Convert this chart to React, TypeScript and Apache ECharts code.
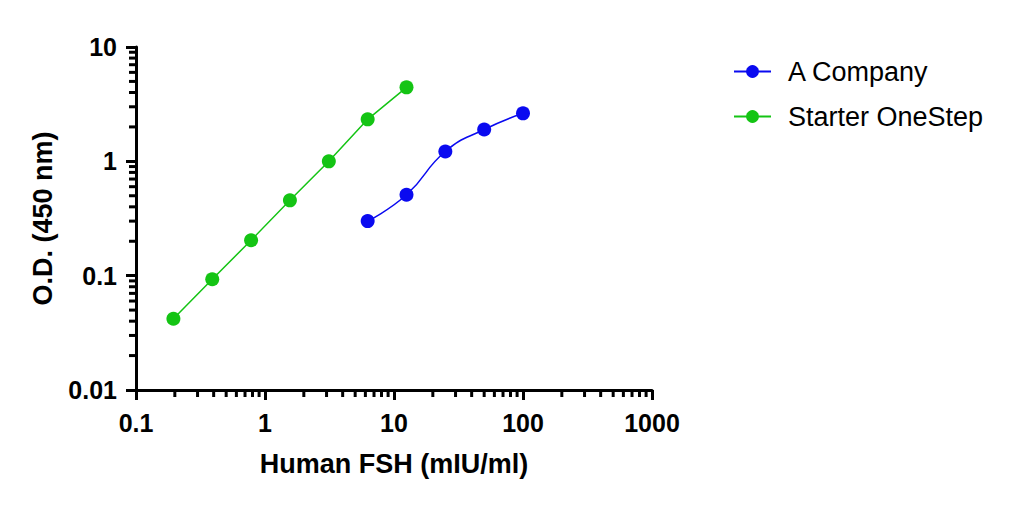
import { useEffect, useRef } from 'react'
import * as echarts from 'echarts'

// ===== 数据 =====
const aCompanyX = [6.25, 12.5, 25, 50, 100]
const aCompanyY = [0.3, 0.51, 1.22, 1.9, 2.63]
const starterX = [0.195, 0.39, 0.78, 1.56, 3.125, 6.25, 12.5]
const starterY = [0.042, 0.093, 0.204, 0.456, 1.0, 2.33, 4.44]

const xDecades = [0.1, 1, 10, 100]
const yDecades = [0.01, 0.1, 1]
const minorSteps = [2, 3, 4, 5, 6, 7, 8, 9]
const xTickLabels: Record<string, string> = { '0.1': '0.1', '1': '1', '10': '10', '100': '100', '1000': '1000' }
const yTickLabels: Record<string, string> = { '0.01': '0.01', '0.1': '0.1', '1': '1', '10': '10' }

const BLUE = '#0a0af0'
const GREEN = '#14c414'
const FONT = '"Liberation Sans", Arial, sans-serif'

const fmt = (map: Record<string, string>) => (v: number) => map[String(+v.toPrecision(6))] ?? ''

export default function App() {
  const ref = useRef<HTMLDivElement>(null)

  useEffect(() => {
    if (!ref.current) return
    const chart = echarts.init(ref.current, undefined, { renderer: 'svg' })

    const xMinor = xDecades.flatMap((d) => minorSteps.map((s) => +(d * s).toPrecision(6)))
    const yMinor = yDecades.flatMap((d) => minorSteps.map((s) => +(d * s).toPrecision(6)))

    const option: echarts.EChartsOption = {
      animation: false,
      backgroundColor: '#fff',
      textStyle: { fontFamily: FONT },
      grid: { left: 136, right: 361, top: 47, bottom: 117 },
      legend: {
        orient: 'vertical',
        left: 728,
        top: 53,
        itemWidth: 37,
        itemHeight: 16,
        itemGap: 18,
        data: ['A Company', 'Starter OneStep'],
        textStyle: { fontSize: 27, color: '#000', fontFamily: FONT, padding: [0, 0, 0, 12] },
      },
      xAxis: {
        type: 'log',
        logBase: 10,
        min: 0.1,
        max: 1000,
        name: 'Human FSH (mIU/ml)',
        nameLocation: 'middle',
        nameGap: 60,
        nameTextStyle: { fontSize: 27, fontWeight: 'bold', color: '#000', fontFamily: FONT },
        axisLine: { lineStyle: { color: '#000', width: 3 } },
        axisTick: { show: true, length: 10, lineStyle: { color: '#000', width: 3 } },
        axisLabel: { fontSize: 25, fontWeight: 'bold', color: '#000', margin: 20, formatter: fmt(xTickLabels) },
        splitLine: { show: false },
      },
      yAxis: {
        type: 'log',
        logBase: 10,
        min: 0.01,
        max: 10,
        name: 'O.D. (450 nm)',
        nameLocation: 'middle',
        nameGap: 80,
        nameTextStyle: { fontSize: 27, fontWeight: 'bold', color: '#000', fontFamily: FONT },
        axisLine: { lineStyle: { color: '#000', width: 3 } },
        axisTick: { show: true, length: 10, lineStyle: { color: '#000', width: 3 } },
        axisLabel: { fontSize: 25, fontWeight: 'bold', color: '#000', margin: 19, formatter: fmt(yTickLabels) },
        splitLine: { show: false },
      },
      series: [
        {
          name: 'A Company',
          type: 'line',
          data: aCompanyX.map((x, i) => [x, aCompanyY[i]]),
          smooth: 0.5,
          symbol: 'circle',
          symbolSize: 14,
          lineStyle: { color: BLUE, width: 1.5 },
          itemStyle: { color: BLUE },
        },
        {
          name: 'Starter OneStep',
          type: 'line',
          data: starterX.map((x, i) => [x, starterY[i]]),
          symbol: 'circle',
          symbolSize: 14,
          lineStyle: { color: GREEN, width: 1.5 },
          itemStyle: { color: GREEN },
        },
        // 次刻度 x
        {
          type: 'custom',
          silent: true,
          data: xMinor.map((v) => [v, 0.01]),
          renderItem: (_p: unknown, api: any) => {
            const pt = api.coord([api.value(0), api.value(1)])
            return {
              type: 'line',
              shape: { x1: pt[0], y1: pt[1], x2: pt[0], y2: pt[1] + 7 },
              style: { stroke: '#000', lineWidth: 3 },
            }
          },
        } as any,
        // 次刻度 y
        {
          type: 'custom',
          silent: true,
          data: yMinor.map((v) => [0.1, v]),
          renderItem: (_p: unknown, api: any) => {
            const pt = api.coord([api.value(0), api.value(1)])
            return {
              type: 'line',
              shape: { x1: pt[0], y1: pt[1], x2: pt[0] - 7, y2: pt[1] },
              style: { stroke: '#000', lineWidth: 3 },
            }
          },
        } as any,
      ],
    }
    chart.setOption(option)
    return () => chart.dispose()
  }, [])

  return (
    <div
      ref={ref}
      style={{ position: 'fixed', left: 0, top: 0, width: 1013, height: 507, background: '#fff' }}
    />
  )
}
